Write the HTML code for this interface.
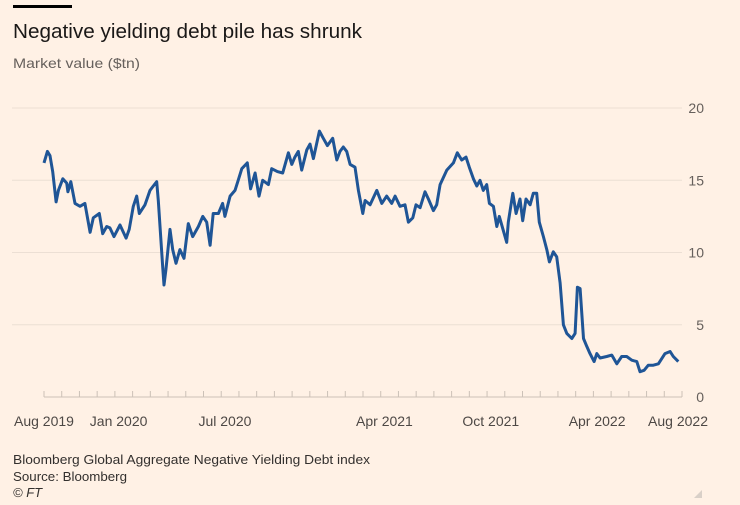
<!DOCTYPE html>
<html><head><meta charset="utf-8"><style>
html,body{margin:0;padding:0;background:#FFF1E5;}
svg{display:block;font-family:"Liberation Sans",sans-serif;}
</style></head><body>
<svg width="740" height="505" viewBox="0 0 740 505">
<rect x="0" y="0" width="740" height="505" fill="#FFF1E5"/>
<rect x="13" y="5" width="59" height="3" fill="#000"/>
<text x="13" y="38" font-size="20" fill="#1a1817" textLength="349" lengthAdjust="spacingAndGlyphs">Negative yielding debt pile has shrunk</text>
<text x="13" y="68" font-size="14" fill="#66605c" textLength="127" lengthAdjust="spacingAndGlyphs">Market value ($tn)</text>
<g id="grid"></g>
<g id="yticks"></g>
<g id="xaxis"></g>
<path id="line" fill="none" stroke="#1f5596" stroke-width="3" stroke-linejoin="round"/>
<text x="13" y="464" font-size="13" fill="#33302e" textLength="357" lengthAdjust="spacingAndGlyphs">Bloomberg Global Aggregate Negative Yielding Debt index</text>
<text x="13" y="481" font-size="13" fill="#33302e" textLength="114" lengthAdjust="spacingAndGlyphs">Source: Bloomberg</text>
<text x="13" y="497" font-size="13" fill="#33302e" font-style="italic">© FT</text>
<path d="M702 490 L702 498 L694 498 Z" fill="#d9d0c8"/>
</svg>
<script>
const yTicks=[0,5,10,15,20];
const xTickLabels=["Aug 2019","Jan 2020","Jul 2020","Apr 2021","Oct 2021","Apr 2022","Aug 2022"];
const xTickMonths=[0,5,11,20,26,32,36];
const months=[0,.19,.34,.49,.68,.81,1.06,1.28,1.35,1.51,1.75,2.03,2.31,2.6,2.78,3.12,3.31,3.54,3.72,3.95,4.29,4.63,4.81,5.04,5.23,5.38,5.7,5.98,6.17,6.36,6.45,6.7,6.77,6.88,7.11,7.26,7.45,7.67,7.9,8.14,8.39,8.71,8.96,9.18,9.37,9.55,9.84,10.08,10.21,10.5,10.78,10.96,11.16,11.47,11.66,11.91,12.13,12.34,12.66,12.85,13.17,13.47,13.79,13.98,14.16,14.35,14.54,14.83,15.01,15.2,15.54,15.76,15.99,16.29,16.52,16.7,16.89,17.08,17.27,17.55,17.74,17.99,18.12,18.4,18.78,19.06,19.34,19.62,19.81,20.09,20.37,20.56,20.81,20.99,21.22,21.5,21.69,21.97,22.16,22.35,22.73,23.1,23.32,23.57,23.81,24,24.23,24.42,24.6,24.79,24.98,25.13,25.36,25.55,25.69,25.92,26.11,26.2,26.45,26.64,26.86,27.01,27.2,27.43,27.61,27.8,27.95,28.18,28.37,28.52,28.74,28.93,29.12,29.31,29.5,29.78,29.97,30.1,30.25,30.44,30.63,30.81,31.04,31.19,31.38,31.75,32.04,32.32,32.6,32.88,33.17,33.45,33.63,33.86,34.1,34.38,34.67,35.04,35.33,35.51,35.79];
const values=[16.2,17.0,16.7,15.6,13.5,14.3,15.1,14.8,14.2,14.9,13.4,13.2,13.4,11.4,12.4,12.7,11.3,11.8,11.7,11.1,11.9,11.0,11.6,13.2,13.9,12.7,13.3,14.3,14.6,14.9,13.6,9.0,7.75,8.8,11.6,10.2,9.25,10.2,9.6,12.0,11.1,11.8,12.5,12.1,10.5,12.7,12.7,13.4,12.5,13.9,14.3,15.0,15.8,16.2,14.4,15.5,13.9,15.0,14.7,15.8,15.6,15.5,16.9,16.1,16.6,17.0,15.7,17.1,17.5,16.5,18.4,17.9,17.4,17.9,16.4,17.0,17.3,17.0,16.1,15.9,14.3,12.7,13.6,13.3,14.3,13.4,13.9,13.4,13.9,13.2,13.3,12.1,12.4,13.3,13.1,14.2,13.7,12.9,13.3,14.7,15.7,16.2,16.9,16.4,16.6,15.9,15.1,14.6,15.0,14.3,14.7,13.4,13.2,11.8,12.5,11.5,10.7,12.1,14.1,12.7,13.7,12.2,13.7,13.3,14.1,14.1,12.1,11.1,10.2,9.35,10.05,9.7,7.9,5.0,4.4,4.05,4.4,7.6,7.5,4.05,3.5,3.0,2.45,3.0,2.7,2.8,2.9,2.3,2.8,2.8,2.55,2.45,1.75,1.85,2.2,2.2,2.3,3.0,3.15,2.8,2.45];
const X0=44,X1=682,M=36,Y0=397,YP=14.45;
function xs(m){return X0+(X1-X0)*m/M;}
function ys(v){return Y0-v*YP;}
const NS="http://www.w3.org/2000/svg";
const grid=document.getElementById('grid'),yt=document.getElementById('yticks'),xa=document.getElementById('xaxis');
yTicks.forEach(v=>{
 if(v>0){const l=document.createElementNS(NS,'line');
 
 
 l.setAttribute('x1',12);l.setAttribute('x2',682);l.setAttribute('y1',ys(v));l.setAttribute('y2',ys(v));
 l.setAttribute('stroke','#ecdfd4');l.setAttribute('stroke-width','1');grid.appendChild(l);}
 const t=document.createElementNS(NS,'text');
 
 
 t.setAttribute('x',704);t.setAttribute('y',ys(v)+5);t.setAttribute('text-anchor','end');
 t.setAttribute('font-size','14');t.setAttribute('fill','#66605c');t.textContent=v;yt.appendChild(t);
});
const base=document.createElementNS(NS,'line');


base.setAttribute('x1',X0);base.setAttribute('x2',X1);base.setAttribute('y1',Y0);base.setAttribute('y2',Y0);
base.setAttribute('stroke','#ccc1b7');xa.appendChild(base);
for(let m=0;m<=M;m++){const l=document.createElementNS(NS,'line');
 
 
 l.setAttribute('x1',xs(m));l.setAttribute('x2',xs(m));l.setAttribute('y1',Y0-6);l.setAttribute('y2',Y0);
 l.setAttribute('stroke','#ccc1b7');xa.appendChild(l);}
xTickLabels.forEach((s,i)=>{const t=document.createElementNS(NS,'text');
 
 
 const m=xTickMonths[i];let x=xs(m),a='middle';
 if(i===0){x=14;a='start';}else if(i===xTickLabels.length-1){x=708;a='end';}else{x=x-14;}
 t.setAttribute('x',x);t.setAttribute('y',426);t.setAttribute('text-anchor',a);
 t.setAttribute('font-size','14');t.setAttribute('fill','#4d4845');t.textContent=s;xa.appendChild(t);});
let d='';months.forEach((m,i)=>{d+=(i?'L':'M')+xs(m).toFixed(1)+' '+ys(values[i]).toFixed(1);});
document.getElementById('line').setAttribute('d',d);
</script>
</body></html>
